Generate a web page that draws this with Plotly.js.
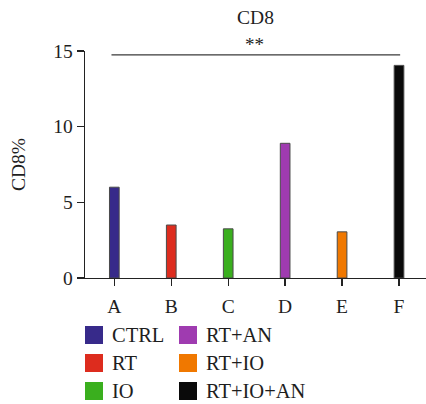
<!DOCTYPE html>
<html>
<head>
<meta charset="utf-8">
<script src="https://cdn.plot.ly/plotly-3.0.1.min.js"></script>
<style>html,body{margin:0;padding:0;background:#fff;}#chart{width:426px;height:404px;}</style>
</head>
<body>
<div id="chart"></div>
<script>
const categories = ['A', 'B', 'C', 'D', 'E', 'F'];
const groups = ['CTRL', 'RT', 'IO', 'RT+AN', 'RT+IO', 'RT+IO+AN'];
const values = [6.0, 3.5, 3.25, 8.9, 3.05, 14.05];
const colors = ['#372a8a', '#dd2c1e', '#3aaf1e', '#9f3bb0', '#f07800', '#0a0a0a'];
const yTicks = [0, 5, 10, 15];
const sigLabel = '**';
const sigFrom = 'A', sigTo = 'F';
const sigLevel = 14.74;

const W = 426, H = 404;
const M = {l: 85, r: 0, t: 51, b: 126};
const PW = W - M.l - M.r, PH = H - M.t - M.b;
const px = x => (x - M.l) / PW;
const py = y => (H - M.b - y) / PH;
const FONT = 'Liberation Serif, Times New Roman, serif';
const TXT = '#1e1e1e';

const trace = {
  type: 'bar',
  x: categories,
  y: values,
  width: 0.17,
  marker: {color: colors, line: {color: '#4a4a4a', width: 1}},
  showlegend: false,
  hoverinfo: 'x+y'
};

const shapes = [];
const annotations = [];

// significance bar
const iFrom = categories.indexOf(sigFrom), iTo = categories.indexOf(sigTo);
shapes.push({type: 'line', xref: 'x', yref: 'y', x0: iFrom - 0.05, x1: iTo + 0.02, y0: sigLevel, y1: sigLevel,
  line: {color: '#3a3a3a', width: 1.3}});
annotations.push({xref: 'x', yref: 'y', x: (iFrom + iTo) / 2 - 0.03, y: sigLevel, text: sigLabel, showarrow: false,
  yanchor: 'bottom', yshift: -2, font: {family: FONT, size: 19, color: TXT}});

// y axis title
annotations.push({xref: 'paper', yref: 'paper', x: 0, y: 0.5, xshift: -66.5, text: 'CD8%', textangle: -90,
  showarrow: false, xanchor: 'center', yanchor: 'middle', font: {family: FONT, size: 19.5, color: TXT}});

// manual legend (two columns, three rows)
groups.forEach((g, i) => {
  const col = Math.floor(i / 3), row = i % 3;
  const sx = 85 + col * 94, cy = 335 + row * 28;
  shapes.push({type: 'rect', xref: 'paper', yref: 'paper', x0: px(sx), x1: px(sx + 18), y0: py(cy - 9), y1: py(cy + 9),
    fillcolor: colors[i], line: {width: 0}});
  annotations.push({xref: 'paper', yref: 'paper', x: px(sx + 25), y: py(cy), text: g, showarrow: false,
    xanchor: 'left', yanchor: 'middle', font: {family: FONT, size: 20.5, color: TXT}});
});

const layout = {
  width: W, height: H,
  margin: M,
  paper_bgcolor: '#fff', plot_bgcolor: '#fff',
  font: {family: FONT, size: 19, color: TXT},
  title: {text: 'CD8', x: 0.5, xref: 'paper', y: 1 - 17 / H, yref: 'container', yanchor: 'middle', xanchor: 'center',
    font: {family: FONT, size: 19.5, color: TXT}},
  xaxis: {range: [-0.515, 5.474], showline: true, linecolor: '#222', linewidth: 1.3, ticks: 'outside', ticklen: 7,
    tickwidth: 1.3, tickcolor: '#222', showgrid: false, zeroline: false, fixedrange: true, ticklabelstandoff: 3,
    tickfont: {family: FONT, size: 19.5, color: TXT}},
  yaxis: {range: [0, 15], tickvals: yTicks, showline: true, linecolor: '#222', linewidth: 1.3, ticks: 'outside',
    ticklen: 7, tickwidth: 1.3, tickcolor: '#222', showgrid: false, zeroline: false, fixedrange: true,
    tickfont: {family: FONT, size: 19.5, color: TXT}},
  shapes: shapes,
  annotations: annotations,
  bargap: 0.8
};

Plotly.newPlot('chart', [trace], layout, {displayModeBar: false, staticPlot: true});
</script>
</body>
</html>
